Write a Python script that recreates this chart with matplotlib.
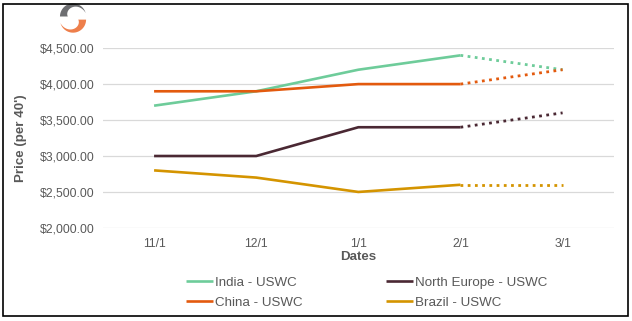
import matplotlib
matplotlib.use("Agg")
import numpy as np
import matplotlib.pyplot as plt
from matplotlib.patches import Rectangle, Polygon
from matplotlib.ticker import FuncFormatter

plt.rcParams['font.family'] = ['Liberation Sans', 'DejaVu Sans']

dates = ['11/1', '12/1', '1/1', '2/1', '3/1']
india = [3700, 3900, 4200, 4400, 4200]
north_europe = [3000, 3000, 3400, 3400, 3600]
china = [3900, 3900, 4000, 4000, 4200]
brazil = [2800, 2700, 2500, 2600, 2600]

series = [
    ('India - USWC', india, '#6ECC9A'),
    ('North Europe - USWC', north_europe, '#4A2833'),
    ('China - USWC', china, '#E35A0E'),
    ('Brazil - USWC', brazil, '#D49400'),
]

fig = plt.figure(figsize=(6.32, 3.21), dpi=100)
ax = fig.add_axes([0.163, 0.29, 0.808, 0.56])

x = list(range(len(dates)))
handles = {}
for name, vals, col in series:
    h, = ax.plot(x[:4], vals[:4], color=col, lw=1.9, solid_capstyle='butt', label=name, zorder=3)
    ax.plot(x[3:], vals[3:], color=col, lw=2.0, linestyle=(0, (1, 1.6)), zorder=3)
    handles[name] = h

ax.set_xlim(-0.5, 4.5)
ax.set_ylim(2000, 4500)
ax.set_yticks([2000, 2500, 3000, 3500, 4000, 4500])
ax.yaxis.set_major_formatter(FuncFormatter(lambda v, p: '${:,.2f}'.format(v)))
ax.set_xticks(x)
ax.set_xticklabels(dates)
ax.grid(axis='y', color='#D9D9D9', lw=0.9)
ax.set_axisbelow(True)
for s in ax.spines.values():
    s.set_visible(False)
ax.tick_params(length=0, labelsize=8.8, colors='#595959', pad=7)
ax.tick_params(axis='y', pad=6)
ax.set_xlabel('Dates', fontsize=9.6, fontweight='bold', color='#595959', labelpad=1)
ax.set_ylabel("Price (per 40')", fontsize=9.6, fontweight='bold', color='#595959', labelpad=9)

order = ['India - USWC', 'China - USWC', 'North Europe - USWC', 'Brazil - USWC']
leg = fig.legend([handles[n] for n in order], order, ncol=2, loc='center',
                 bbox_to_anchor=(0.58, 0.088), frameon=False, fontsize=9.6,
                 handlelength=2.0, handletextpad=0.15, columnspacing=6.3,
                 labelspacing=0.55)
for t in leg.get_texts():
    t.set_color('#595959')

# frame around the whole chart
fig.patches.append(Rectangle((0.005, 0.015), 0.989, 0.973, transform=fig.transFigure,
                             fill=False, edgecolor='black', lw=1.2))

# small swirl logo top left
lax = fig.add_axes([0.0918, 0.897, 0.0475, 0.0935])
lax.set_xlim(-1.15, 1.15)
lax.set_ylim(-1.15, 1.15)
lax.set_aspect('equal')
lax.axis('off')
th = np.radians(np.linspace(15, 180, 60))
thick = 0.6 * (th - th[0]) / (th[-1] - th[0])
outer = np.column_stack([np.cos(th), np.sin(th)])
inner = np.column_stack([(1 - thick) * np.cos(th), (1 - thick) * np.sin(th)])[::-1]
grey = np.vstack([outer, inner]) + [0.0, 0.12]
lax.add_patch(Polygon(grey, closed=True, color='#6D6E71', lw=0))
lax.add_patch(Polygon(-grey, closed=True, color='#EE7F4B', lw=0))

fig.savefig('out.png', dpi=100)
